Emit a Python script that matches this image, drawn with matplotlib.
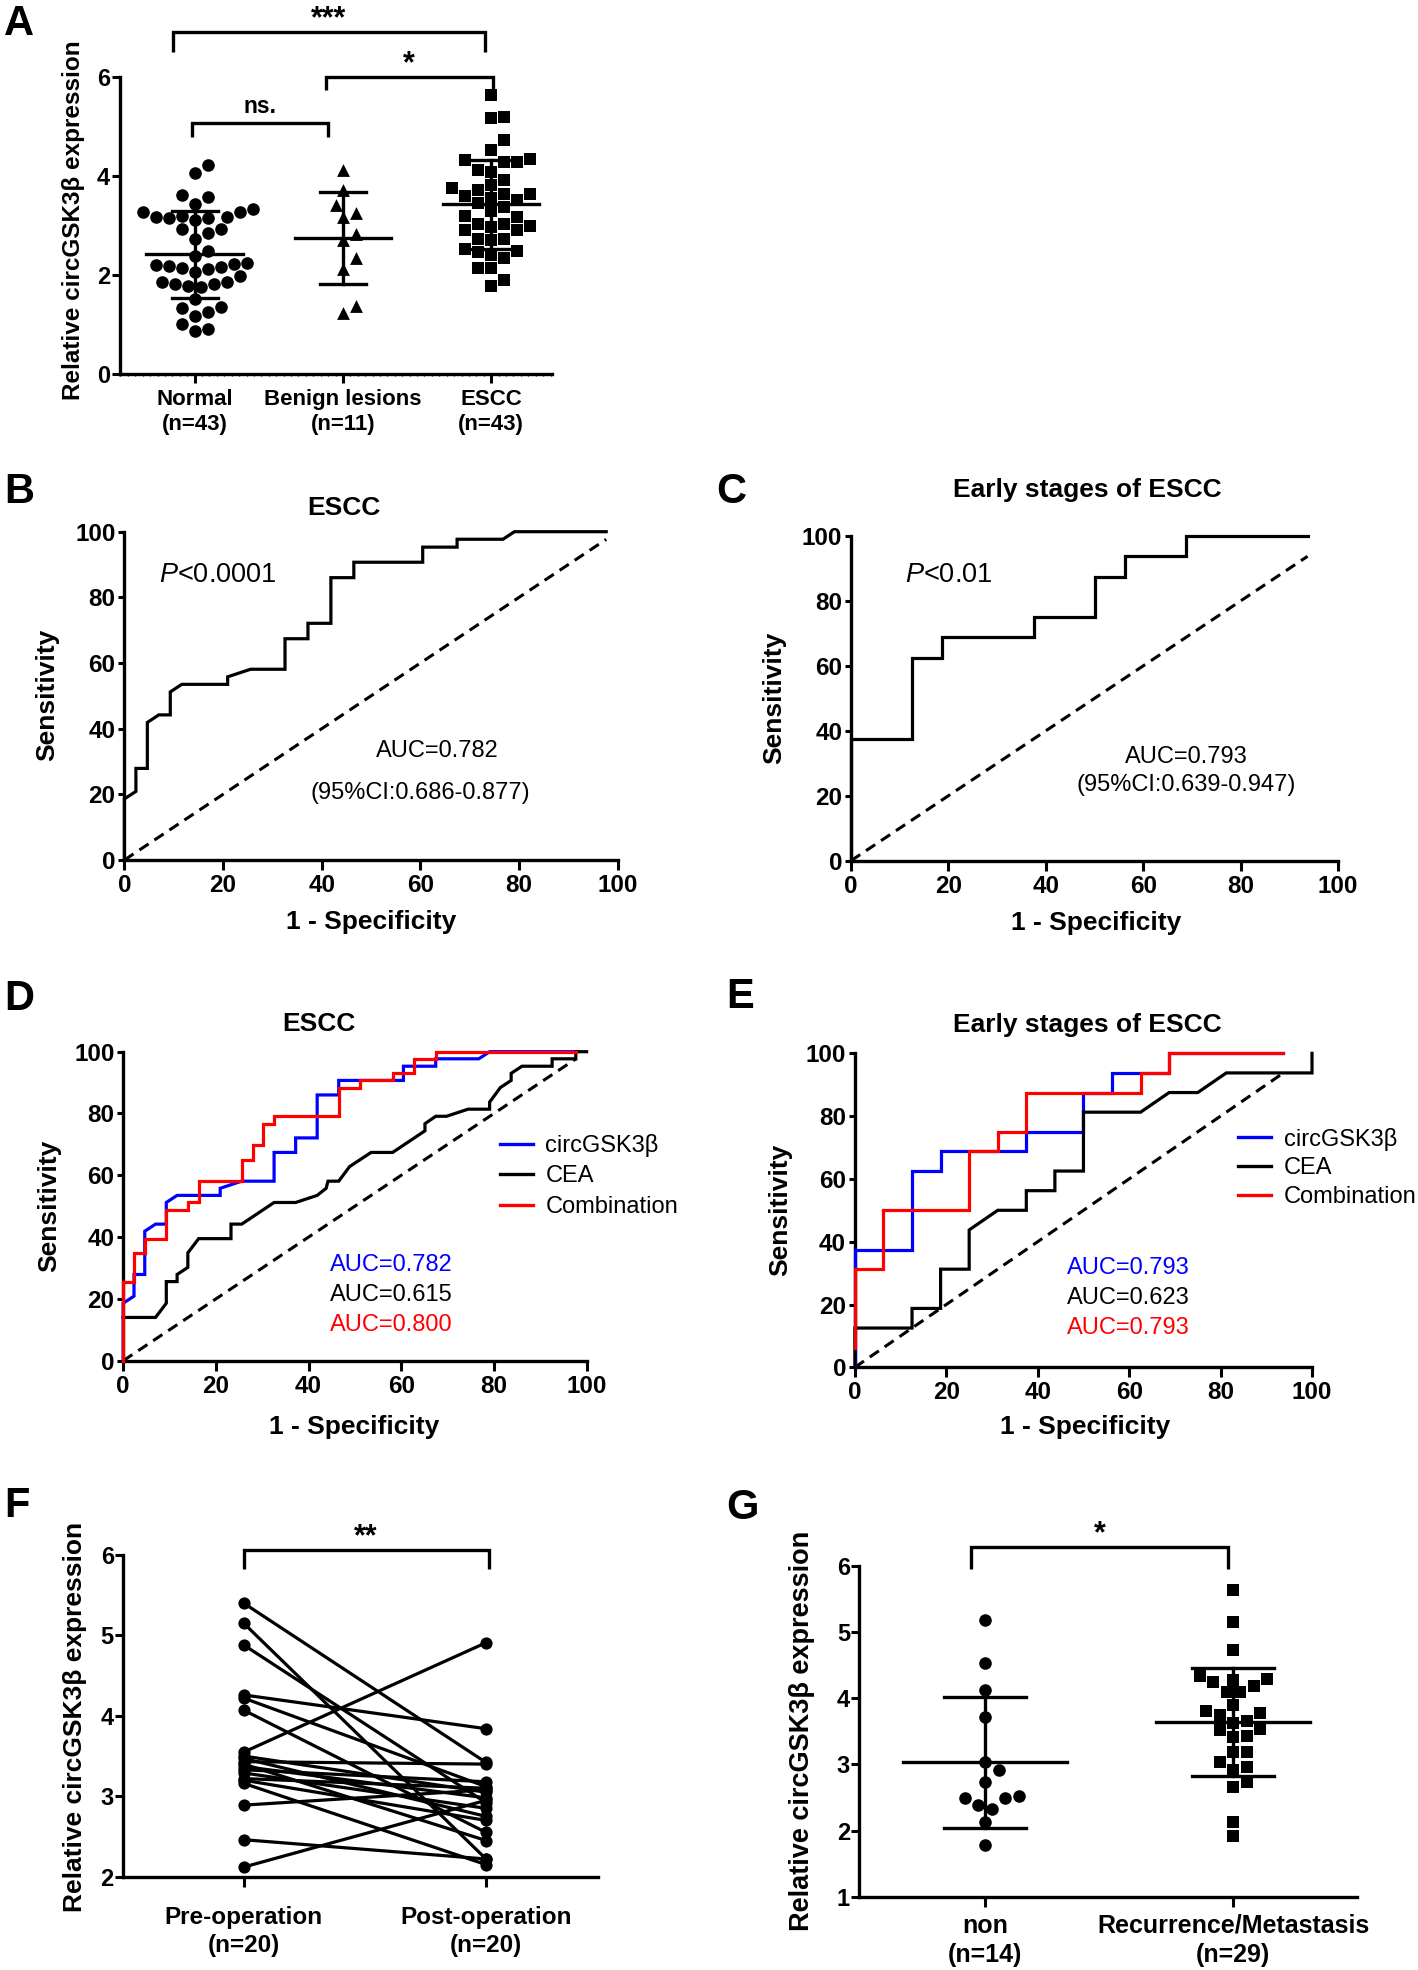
import numpy as np
import matplotlib
matplotlib.use('Agg')
import matplotlib.pyplot as plt
from matplotlib.lines import Line2D
from matplotlib.ticker import MultipleLocator

# ---------------- data ----------------
groups_A = ['Normal\n(n=43)', 'Benign lesions\n(n=11)', 'ESCC\n(n=43)']
normal_vals = [4.23, 4.07, 3.62, 3.57, 3.43, 3.20, 3.15, 3.28, 3.11, 3.18, 3.27, 3.33, 3.15, 3.18,
               2.93, 2.85, 2.93, 2.74, 2.49, 2.39, 2.22, 2.19, 2.12, 2.15, 2.17, 2.20, 2.24, 2.07,
               1.98, 1.87, 1.82, 1.75, 1.78, 1.83, 1.87, 1.52, 1.33, 1.26, 1.17, 1.36, 1.02, 0.86, 0.90]
benign_vals = [4.13, 3.72, 3.42, 3.25, 3.18, 2.84, 2.70, 2.34, 2.12, 1.38, 1.23]
escc_vals = [5.64, 5.17, 5.19, 4.73, 4.53, 4.33, 4.13, 4.29, 4.34, 4.29,
             4.09, 3.92, 3.82, 3.76, 3.65, 3.52, 3.64, 3.73, 3.56, 3.38,
             3.45, 3.20, 3.18, 3.03, 2.99, 2.91, 2.91, 2.98, 3.03, 2.74,
             2.74, 2.52, 2.47, 2.71, 2.49, 2.41, 2.34, 2.14, 2.14, 1.90,
             1.78, 3.60, 3.30]
means_A = [2.42, 2.75, 3.43]
sds_A = [0.875, 0.925, 0.895]

# ROC curves (1 - specificity %, sensitivity %)
roc_escc_circ = [(0, 0), (0, 18.6), (2.33, 20.9), (2.33, 27.9), (4.65, 27.9), (4.65, 41.9), (6.98, 44.2),
                 (9.30, 44.2), (9.30, 51.2), (11.63, 53.5), (20.93, 53.5), (20.93, 55.8), (25.58, 58.1),
                 (32.56, 58.1), (32.56, 67.4), (37.21, 67.4), (37.21, 72.1), (41.86, 72.1), (41.86, 86.0),
                 (46.51, 86.0), (46.51, 90.7), (60.47, 90.7), (60.47, 95.3), (67.44, 95.3), (67.44, 97.7),
                 (76.74, 97.7), (79.07, 100), (97.67, 100)]
roc_escc_comb = [(0, 0), (0, 25.6), (2.33, 25.6), (2.33, 34.9), (4.65, 34.9), (4.65, 39.5), (9.30, 39.5),
                 (9.30, 48.8), (13.95, 48.8), (13.95, 51.2), (16.28, 51.2), (16.28, 58.1), (25.58, 58.1),
                 (25.58, 65.1), (27.91, 65.1), (27.91, 69.8), (30.23, 69.8), (30.23, 76.7), (32.56, 76.7),
                 (32.56, 79.1), (46.51, 79.1), (46.51, 88.4), (51.16, 88.4), (51.16, 90.7), (58.14, 90.7),
                 (58.14, 93.0), (62.79, 93.0), (62.79, 97.7), (67.44, 97.7), (67.44, 100), (97.67, 100)]
roc_escc_cea = [(0, 14.0), (6.98, 14.0), (9.30, 18.6), (9.30, 25.6), (11.63, 25.6), (11.63, 27.9),
                (13.95, 30.2), (13.95, 34.9), (16.28, 39.5), (23.26, 39.5), (23.26, 44.2), (25.58, 44.2),
                (32.56, 51.2), (37.21, 51.2), (41.86, 53.5), (43.80, 55.8), (44.19, 58.1), (46.51, 58.1),
                (48.84, 62.8), (53.49, 67.4), (58.14, 67.4), (65.12, 74.4), (65.12, 76.7), (67.44, 79.1),
                (69.77, 79.1), (74.42, 81.4), (79.07, 81.4), (79.07, 83.7), (81.40, 88.4), (83.72, 90.7),
                (83.72, 93.0), (86.05, 95.3), (92.56, 95.3), (92.56, 97.7), (97.67, 97.7), (97.67, 100),
                (100, 100)]
roc_early_circ = [(0, 0), (0, 37.5), (12.5, 37.5), (12.5, 62.5), (18.75, 62.5), (18.75, 68.75),
                  (37.5, 68.75), (37.5, 75), (50, 75), (50, 87.5), (56.25, 87.5), (56.25, 93.75),
                  (68.75, 93.75), (68.75, 100), (93.75, 100)]
roc_early_comb = [(0, 6.25), (0, 31.25), (6.25, 31.25), (6.25, 50), (25, 50), (25, 68.75), (31.25, 68.75),
                  (31.25, 75), (37.5, 75), (37.5, 87.5), (62.5, 87.5), (62.5, 93.75), (68.75, 93.75),
                  (68.75, 100), (93.75, 100)]
roc_early_cea = [(0, 0), (0, 12.5), (12.5, 12.5), (12.5, 18.75), (18.75, 18.75), (18.75, 31.25), (25, 31.25),
                 (25, 43.75), (31.25, 50), (37.5, 50), (37.5, 56.25), (43.75, 56.25), (43.75, 62.5),
                 (50, 62.5), (50, 81.25), (62.5, 81.25), (68.75, 87.5), (75, 87.5), (81.25, 93.75),
                 (100, 93.75), (100, 100)]
diag_end_escc = 97.67
diag_end_early = 93.75
auc_escc = ['AUC=0.782', 'AUC=0.615', 'AUC=0.800']
auc_early = ['AUC=0.793', 'AUC=0.623', 'AUC=0.793']
legend_labels = ['circGSK3β', 'CEA', 'Combination']

# F: paired pre/post
groups_F = ['Pre-operation\n(n=20)', 'Post-operation\n(n=20)']
pre_op = [5.40, 5.15, 4.88, 4.26, 4.22, 4.07, 3.55, 3.50, 3.47, 3.43,
          3.40, 3.37, 3.33, 3.29, 3.22, 3.16, 3.20, 2.89, 2.46, 2.12]
post_op = [3.42, 2.22, 2.92, 3.84, 3.12, 2.55, 4.91, 3.05, 2.75, 3.40,
           2.45, 2.98, 3.18, 2.85, 3.10, 2.15, 2.70, 3.08, 2.22, 2.95]

# G
groups_G = ['non\n(n=14)', 'Recurrence/Metastasis\n(n=29)']
non_vals = [5.18, 4.54, 4.13, 3.72, 3.03, 2.91, 2.74, 2.52, 2.49, 2.49, 2.39, 2.32, 2.13, 1.78]
rec_vals = [5.64, 5.16, 4.73, 4.33, 4.28, 4.19, 4.10, 4.24, 4.29, 3.90,
            3.81, 3.75, 3.77, 3.65, 3.63, 3.53, 3.52, 3.43, 3.42, 3.19,
            3.19, 3.03, 2.96, 2.92, 2.74, 2.66, 2.13, 1.92, 4.10]
means_G = [3.03, 3.64]
sds_G = [0.995, 0.82]

# ---------------- style ----------------
plt.rcParams['font.family'] = ['Liberation Sans', 'DejaVu Sans']
plt.rcParams['font.weight'] = 'bold'
plt.rcParams['mathtext.fontset'] = 'custom'
plt.rcParams['mathtext.it'] = 'Liberation Sans:italic:weight=normal'
plt.rcParams['mathtext.rm'] = 'Liberation Sans:weight=normal'

W, H = 1418, 1970
fig = plt.figure(figsize=(W / 100, H / 100), dpi=100)
PT = 72 / 100
LW = 2.4
TICK_ROC = 17.5
ANN = 17
LAB = 19
STAR = 22


def add_ax(l, t, r, b):
    ax = fig.add_axes([l / W, 1 - b / H, (r - l) / W, (b - t) / H])
    for s in ('top', 'right'):
        ax.spines[s].set_visible(False)
    for s in ('left', 'bottom'):
        ax.spines[s].set_linewidth(LW)
    ax.patch.set_alpha(0)
    return ax


def ftext(x, y, s, **kw):
    return fig.text(x / W, 1 - y / H, s, **kw)


def swarm(vals, d, sx, sy):
    vals = np.asarray(vals, float)
    out = np.zeros(len(vals))
    placed = []
    for i in np.argsort(vals):
        y = vals[i] * sy
        best = None
        for k in range(0, 60):
            for sgn in ([0] if k == 0 else [1, -1]):
                off = sgn * k * d * 0.5
                if all((off - px) ** 2 + (y - py) ** 2 >= (d * 0.98) ** 2 for px, py in placed):
                    best = off
                    break
            if best is not None:
                break
        placed.append((best, y))
        out[i] = best / sx
    return out


def bracket(ax, x0, x1, ytop, yleg, text, ty, tva, fs=16):
    ax.plot([x0, x0, x1, x1], [yleg, ytop, ytop, yleg], color='k', lw=LW, clip_on=False,
            solid_joinstyle='miter', solid_capstyle='butt')
    ax.text((x0 + x1) / 2, ty, text, ha='center', va=tva, fontsize=fs, fontweight='bold')


def letter(x, y, s):
    ftext(x, y, s, fontsize=30, fontweight='bold', ha='left', va='top')


# ---------------- Panel A ----------------
lA, tA, rA, bA = 119.6, 77.3, 552, 374
axA = add_ax(lA, tA, rA, bA)
xrA = (-0.506, 2.41)
axA.set_xlim(*xrA)
axA.set_ylim(0, 6)
sxA = (rA - lA) / (xrA[1] - xrA[0])
syA = (bA - tA) / 6
mk_A = ['o', '^', 's']
sz_A = [82, 85, 66]
for i, vals in enumerate([normal_vals, benign_vals, escc_vals]):
    offs = swarm(vals, 13, sxA, syA)
    axA.scatter(i + offs, vals, marker=mk_A[i], s=sz_A[i], c='k', linewidths=0, zorder=3, clip_on=False)
    m, sd = means_A[i], sds_A[i]
    axA.plot([i - 0.325, i + 0.325], [m, m], color='k', lw=LW, zorder=4)
    axA.plot([i, i], [m - sd, m + sd], color='k', lw=LW, zorder=4)
    for yv in (m - sd, m + sd):
        axA.plot([i - 0.155, i + 0.155], [yv, yv], color='k', lw=LW, zorder=4)
axA.set_yticks([0, 2, 4, 6])
axA.set_xticks([0, 1, 2])
axA.set_xticklabels(groups_A, linespacing=1.25)
axA.xaxis.set_minor_locator(MultipleLocator(0.05))
axA.tick_params(axis='y', length=8 * PT, width=2.2, labelsize=17, pad=1)
axA.tick_params(axis='x', which='major', length=9 * PT, width=2.2, labelsize=16, pad=4)
axA.tick_params(axis='x', which='minor', length=2.5 * PT, width=1.0)
bracket(axA, -0.149, 1.96, 6.92, 6.52, '***', 6.88, 'bottom', fs=STAR)
bracket(axA, 0.885, 2.01, 6.0, 5.74, '*', 5.96, 'bottom', fs=STAR)
bracket(axA, -0.017, 0.9, 5.07, 4.80, 'ns.', 5.28, 'baseline', fs=16.5)
ftext(74, 220, 'Relative circGSK3β expression', rotation=90, fontsize=17.5, fontweight='bold',
      ha='center', va='center')
letter(4, 4, 'A')


# ---------------- ROC helpers ----------------
def roc_axes(l, t, r, b):
    ax = add_ax(l, t, r, b)
    ax.set_xlim(0, 100)
    ax.set_ylim(0, 100)
    ax.set_xticks(range(0, 101, 20))
    ax.set_yticks(range(0, 101, 20))
    ax.tick_params(axis='x', length=10 * PT, width=2.2, labelsize=TICK_ROC, pad=3)
    ax.tick_params(axis='y', length=6 * PT, width=2.2, labelsize=TICK_ROC, pad=2)
    return ax


def draw_curve(ax, pts, color):
    x, y = zip(*pts)
    ax.plot(x, y, color=color, lw=2.3, zorder=3, clip_on=False, solid_joinstyle='miter')


def draw_diag(ax, end):
    ax.plot([0, end], [0, end], color='k', lw=2.2, ls=(0, (3.6, 2.3)), zorder=2.6, clip_on=False)


# ---------------- Panel B ----------------
axB = roc_axes(124.4, 531.7, 617.7, 860)
draw_curve(axB, roc_escc_circ, 'k')
draw_diag(axB, diag_end_escc)
axB.text(7.1, 86.8, r'$\mathit{P}$<0.0001', fontsize=19.5, fontweight='normal', ha='left', va='center')
axB.text(63.4, 33.2, auc_escc[0], fontsize=ANN, fontweight='normal', ha='center', va='center')
axB.text(60.0, 20.3, '(95%CI:0.686-0.877)', fontsize=ANN, fontweight='normal', ha='center', va='center')
ftext(344, 508, 'ESCC', fontsize=19, fontweight='bold', ha='center', va='center')
ftext(47.7, 695, 'Sensitivity', rotation=90, fontsize=LAB, fontweight='bold', ha='center', va='center')
ftext(371, 921.7, '1 - Specificity', fontsize=LAB, fontweight='bold', ha='center', va='center')
letter(4, 472, 'B')

# ---------------- Panel C ----------------
axC = roc_axes(851, 536, 1338, 860.7)
draw_curve(axC, roc_early_circ, 'k')
draw_diag(axC, diag_end_early)
axC.text(11.0, 88.0, r'$\mathit{P}$<0.01', fontsize=19.5, fontweight='normal', ha='left', va='center')
axC.text(68.9, 32.0, auc_early[0], fontsize=ANN, fontweight='normal', ha='center', va='center')
axC.text(68.9, 23.3, '(95%CI:0.639-0.947)', fontsize=ANN, fontweight='normal', ha='center', va='center')
ftext(1087.5, 490, 'Early stages of ESCC', fontsize=19, fontweight='bold', ha='center', va='center')
ftext(774, 697.5, 'Sensitivity', rotation=90, fontsize=LAB, fontweight='bold', ha='center', va='center')
ftext(1096, 923, '1 - Specificity', fontsize=LAB, fontweight='bold', ha='center', va='center')
letter(716, 472, 'C')

# ---------------- Panel D ----------------
fsL = 17
axD = roc_axes(123.2, 1051.7, 586.6, 1360.7)
draw_diag(axD, diag_end_escc)
draw_curve(axD, roc_escc_circ, '#0000ff')
draw_curve(axD, roc_escc_cea, 'k')
draw_curve(axD, roc_escc_comb, '#ff0000')
for txt, yv, col in zip(auc_escc, [31.0, 21.3, 11.5], ['#0000ff', 'k', '#ff0000']):
    axD.text(44.6, yv, txt, color=col, fontsize=fsL, fontweight='normal', ha='left', va='center')
hD = [Line2D([], [], color=c, lw=2.4) for c in ['#0000ff', 'k', '#ff0000']]
axD.legend(hD, legend_labels, loc='center left', bbox_to_anchor=(499.5 / W, 1 - 1176 / H),
           bbox_transform=fig.transFigure, frameon=False, borderpad=0, borderaxespad=0,
           handlelength=33 / (fsL / PT), handletextpad=13 / (fsL / PT), labelspacing=0.36,
           prop={'size': fsL, 'weight': 'normal'})
ftext(319, 1024, 'ESCC', fontsize=19, fontweight='bold', ha='center', va='center')
ftext(49, 1206, 'Sensitivity', rotation=90, fontsize=LAB, fontweight='bold', ha='center', va='center')
ftext(354, 1426.7, '1 - Specificity', fontsize=LAB, fontweight='bold', ha='center', va='center')
letter(4, 979, 'D')

# ---------------- Panel E ----------------
axE = roc_axes(854.9, 1053.3, 1312, 1367.3)
draw_diag(axE, diag_end_early)
draw_curve(axE, roc_early_circ, '#0000ff')
draw_curve(axE, roc_early_cea, 'k')
draw_curve(axE, roc_early_comb, '#ff0000')
for txt, yv, col in zip(auc_early, [31.7, 22.2, 12.6], ['#0000ff', 'k', '#ff0000']):
    axE.text(46.3, yv, txt, color=col, fontsize=fsL, fontweight='normal', ha='left', va='center')
hE = [Line2D([], [], color=c, lw=2.4) for c in ['#0000ff', 'k', '#ff0000']]
axE.legend(hE, legend_labels, loc='center left', bbox_to_anchor=(1237.7 / W, 1 - 1167.7 / H),
           bbox_transform=fig.transFigure, frameon=False, borderpad=0, borderaxespad=0,
           handlelength=33 / (fsL / PT), handletextpad=13 / (fsL / PT), labelspacing=0.28,
           prop={'size': fsL, 'weight': 'normal'})
ftext(1087, 1025, 'Early stages of ESCC', fontsize=19, fontweight='bold', ha='center', va='center')
ftext(780, 1210, 'Sensitivity', rotation=90, fontsize=LAB, fontweight='bold', ha='center', va='center')
ftext(1085, 1426.7, '1 - Specificity', fontsize=LAB, fontweight='bold', ha='center', va='center')
letter(726, 977, 'E')

# ---------------- Panel F ----------------
axF = add_ax(123.2, 1555, 598, 1876.7)
axF.set_xlim(-0.498, 1.462)
axF.set_ylim(2, 6)
for a, b in zip(pre_op, post_op):
    axF.plot([0, 1], [a, b], color='k', lw=2.3, marker='o', ms=8.8, mew=0, zorder=3, clip_on=False)
axF.set_yticks([2, 3, 4, 5, 6])
axF.set_xticks([0, 1])
axF.set_xticklabels(groups_F, linespacing=1.25)
axF.tick_params(axis='y', length=8 * PT, width=2.2, labelsize=17, pad=1)
axF.tick_params(axis='x', length=10 * PT, width=2.2, labelsize=17.5, pad=14)
bracket(axF, 0, 1.01, 6.06, 5.83, '**', 6.03, 'bottom', fs=STAR)
ftext(74.6, 1716.7, 'Relative circGSK3β expression', rotation=90, fontsize=19, fontweight='bold',
      ha='center', va='center')
letter(4, 1486, 'F')

# ---------------- Panel G ----------------
lG, tG, rG, bG = 859.4, 1566, 1356.8, 1896.7
axG = add_ax(lG, tG, rG, bG)
axG.set_xlim(-0.507, 1.498)
axG.set_ylim(1, 6)
sxG = (rG - lG) / 2.005
syG = (bG - tG) / 5
mk_G = ['o', 's']
sz_G = [82, 72]
half_mean = [0.33, 0.31]
for i, vals in enumerate([non_vals, rec_vals]):
    offs = swarm(vals, 13.5, sxG, syG)
    axG.scatter(i + offs, vals, marker=mk_G[i], s=sz_G[i], c='k', linewidths=0, zorder=3, clip_on=False)
    m, sd = means_G[i], sds_G[i]
    axG.plot([i - half_mean[i], i + half_mean[i]], [m, m], color='k', lw=LW, zorder=4)
    axG.plot([i, i], [m - sd, m + sd], color='k', lw=LW, zorder=4)
    for yv in (m - sd, m + sd):
        axG.plot([i - 0.165, i + 0.165], [yv, yv], color='k', lw=LW, zorder=4)
axG.set_yticks([1, 2, 3, 4, 5, 6])
axG.set_xticks([0, 1])
axG.set_xticklabels(groups_G, linespacing=1.3)
axG.tick_params(axis='y', length=8 * PT, width=2.2, labelsize=17, pad=1)
axG.tick_params(axis='x', length=10 * PT, width=2.2, labelsize=18, pad=5)
bracket(axG, -0.058, 0.98, 6.29, 5.95, '*', 6.26, 'bottom', fs=STAR)
ftext(801.7, 1730.8, 'Relative circGSK3β expression', rotation=90, fontsize=19.5, fontweight='bold',
      ha='center', va='center')
letter(726, 1488, 'G')

fig.savefig('out.png', dpi=100)
